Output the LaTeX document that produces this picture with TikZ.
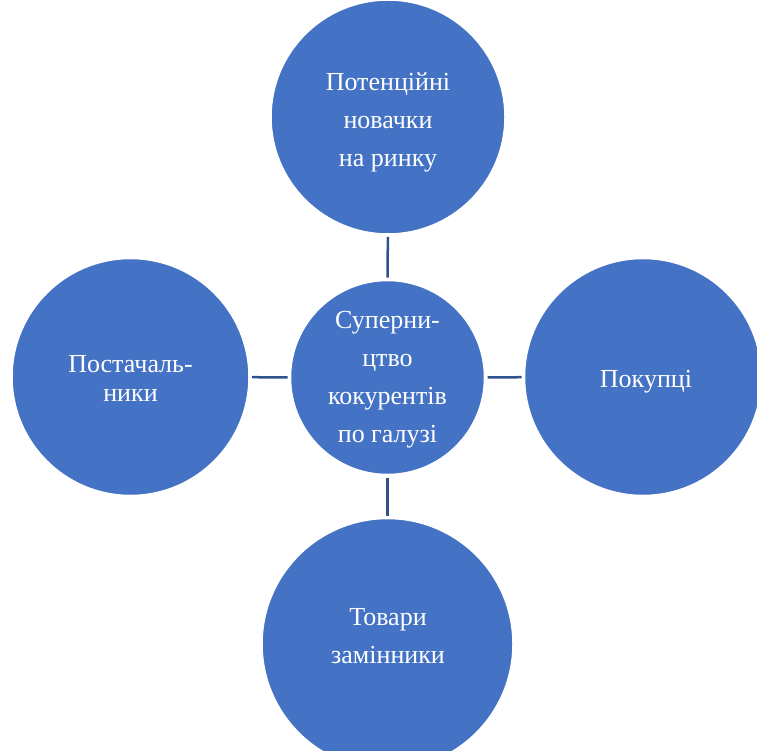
\documentclass[tikz,border=0pt]{standalone}
\usepackage{fontspec}
\setmainfont{Liberation Serif}
\definecolor{cfill}{HTML}{4472C4}
\definecolor{cline}{HTML}{2F528F}
\begin{document}
\begin{tikzpicture}[x=1pt,y=-1pt,
  bubble/.style={circle,fill=cfill,draw=white,line width=2.5pt,inner sep=0pt,outer sep=0pt},
  lbl/.style={text=white,align=center,inner sep=0pt,anchor=base,font=\fontsize{26}{38}\selectfont},
  conn/.style={draw=cline,line width=2.5pt,shorten >=2.5pt,shorten <=2.5pt}]
\useasboundingbox (0,0) rectangle (757,751);
% circles
\node[bubble,minimum size=235pt] (top) at (388,117) {};
\node[bubble,minimum size=238pt] (left) at (130.5,377) {};
\node[bubble,minimum size=195pt] (mid) at (387.5,377.5) {};
\node[bubble,minimum size=238pt] (right) at (643,377) {};
\node[bubble,minimum size=252pt] (bot) at (387.5,644) {};
% connectors
\draw[conn] (top) -- (mid);
\draw[conn] (left) -- (mid);
\draw[conn] (right) -- (mid);
\draw[conn] (bot) -- (mid);
% labels (anchor base = baseline of the last line)
\node[lbl] (tTop) at (388,167) {Потенційні\\новачки\\на ринку};
\node[lbl,font=\fontsize{26}{28.5}\selectfont] (tLeft) at (130.5,401) {Постачаль-\\ники};
\node[lbl] (tMid) at (387.5,442) {Суперни-\\цтво\\кокурентів\\по галузі};
\node[lbl] (tRight) at (646,387) {Покупці};
\node[lbl] (tBot) at (388,663) {Товари\\замінники};
\end{tikzpicture}
\end{document}
